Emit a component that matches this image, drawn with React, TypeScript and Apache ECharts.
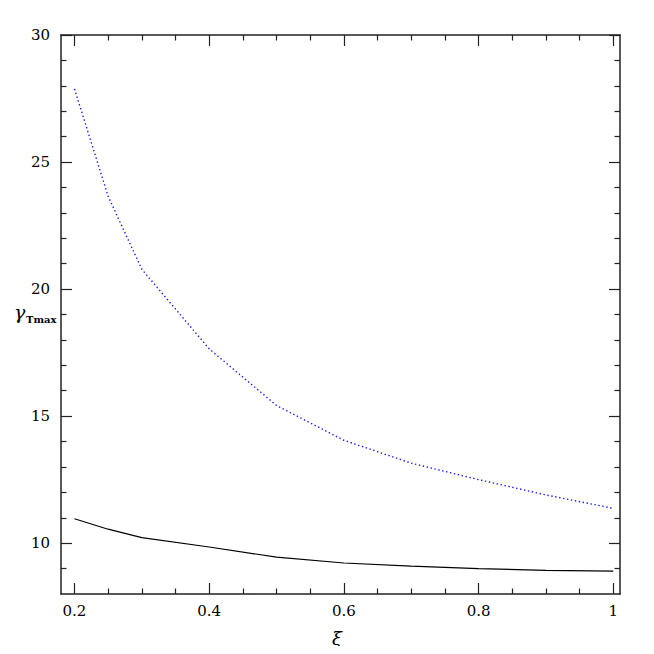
import { useEffect, useRef } from 'react';
import * as echarts from 'echarts';

// ξ values (x) and the two curves
const xi = [0.2, 0.25, 0.3, 0.4, 0.5, 0.6, 0.7, 0.8, 0.9, 1.0];
const gammaDotted = [27.88, 23.65, 20.78, 17.65, 15.42, 14.05, 13.15, 12.5, 11.9, 11.37];
const gammaSolid = [10.96, 10.55, 10.22, 9.85, 9.45, 9.22, 9.1, 9.0, 8.93, 8.9];

// tick positions
const xMajor = [0.2, 0.4, 0.6, 0.8, 1.0];
const xMinor = [0.25, 0.3, 0.35, 0.45, 0.5, 0.55, 0.65, 0.7, 0.75, 0.85, 0.9, 0.95];
const yMajor = [10, 15, 20, 25, 30];
const yMinor = [9, 11, 12, 13, 14, 16, 17, 18, 19, 21, 22, 23, 24, 26, 27, 28, 29];

const X_MIN = 0.18;
const X_MAX = 1.01;
const Y_MIN = 8;
const Y_MAX = 30;

const FONT = 'DejaVu Serif';
const AXIS_COLOR = '#222';

const pairs = (ys: number[]) => xi.map((x, i) => [x, ys[i]]);

const makeX = (position: 'top' | 'bottom', major: boolean, labels: boolean) => ({
    type: 'value' as const,
    min: X_MIN,
    max: X_MAX,
    position,
    axisLine: { show: major, onZero: false, lineStyle: { color: AXIS_COLOR, width: 1.5 } },
    axisTick: {
        show: true,
        inside: true,
        length: major ? 11 : 5.5,
        customValues: major ? xMajor : xMinor,
        lineStyle: { color: AXIS_COLOR, width: 1.2 }
    },
    axisLabel: labels
        ? { show: true, customValues: xMajor, margin: 9, color: '#000', fontFamily: FONT, fontSize: 15 }
        : { show: false },
    splitLine: { show: false }
});

const makeY = (position: 'left' | 'right', major: boolean, labels: boolean) => ({
    type: 'value' as const,
    min: Y_MIN,
    max: Y_MAX,
    position,
    axisLine: { show: major, onZero: false, lineStyle: { color: AXIS_COLOR, width: 1.5 } },
    axisTick: {
        show: true,
        inside: true,
        length: major ? 11 : 5.5,
        customValues: major ? yMajor : yMinor,
        lineStyle: { color: AXIS_COLOR, width: 1.2 }
    },
    axisLabel: labels
        ? { show: true, customValues: yMajor, margin: 11, color: '#000', fontFamily: FONT, fontSize: 15 }
        : { show: false },
    splitLine: { show: false }
});

const App = () => {
    const chartRef = useRef<HTMLDivElement>(null);

    useEffect(() => {
        if (!chartRef.current) return;
        const chart = echarts.init(chartRef.current, undefined, { renderer: 'svg' });

        chart.setOption({
            animation: false,
            backgroundColor: '#fff',
            grid: { left: 61, right: 34, top: 35, bottom: 60, containLabel: false },
            xAxis: [
                makeX('bottom', true, true),
                makeX('bottom', false, false),
                makeX('top', true, false),
                makeX('top', false, false)
            ],
            yAxis: [
                makeY('left', true, true),
                makeY('left', false, false),
                makeY('right', true, false),
                makeY('right', false, false)
            ],
            series: [
                {
                    type: 'line',
                    data: pairs(gammaDotted),
                    showSymbol: false,
                    lineStyle: { color: '#1a1aff', width: 1.4, type: [1.4, 2.6] }
                },
                {
                    type: 'line',
                    data: pairs(gammaSolid),
                    showSymbol: false,
                    lineStyle: { color: '#000', width: 1.2 }
                }
            ],
            graphic: [
                {
                    type: 'text',
                    x: 337,
                    y: 638,
                    style: {
                        text: 'ξ',
                        font: 'italic 18px "DejaVu Serif"',
                        fill: '#000',
                        align: 'center',
                        verticalAlign: 'middle'
                    }
                },
                {
                    type: 'text',
                    x: 14,
                    y: 312,
                    style: {
                        text: 'γ',
                        font: 'italic 19px "DejaVu Serif"',
                        fill: '#000',
                        align: 'left',
                        verticalAlign: 'middle'
                    }
                },
                {
                    type: 'text',
                    x: 26,
                    y: 319,
                    style: {
                        text: 'Tmax',
                        font: 'bold 10px "DejaVu Serif"',
                        fill: '#000',
                        align: 'left',
                        verticalAlign: 'middle'
                    }
                }
            ]
        });

        return () => {
            chart.dispose();
        };
    }, []);

    return <div ref={chartRef} style={{ width: 654, height: 654, margin: -8 }} />;
};

export default App;
